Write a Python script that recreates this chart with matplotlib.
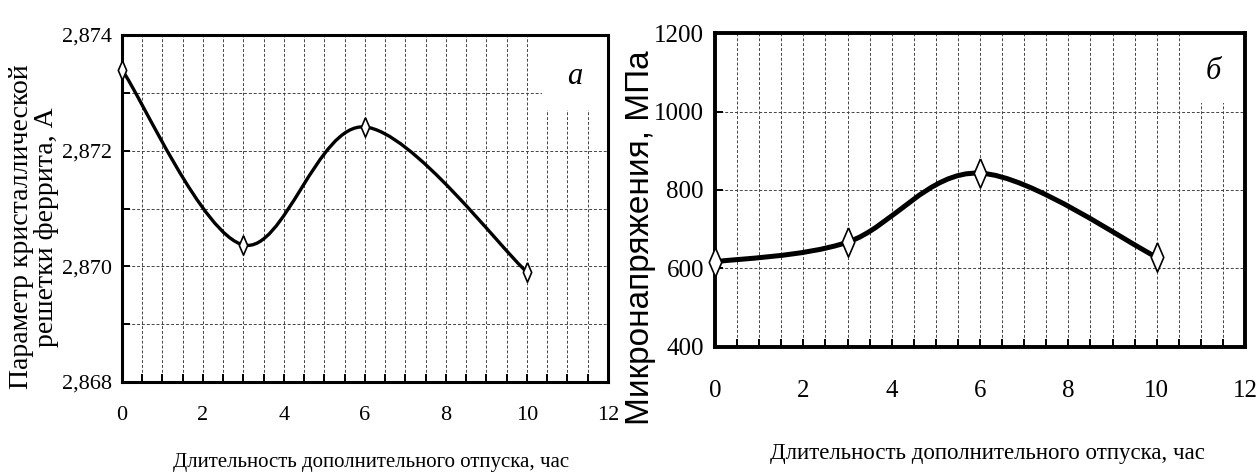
import matplotlib
matplotlib.use("Agg")
import matplotlib.pyplot as plt
import numpy as np
from matplotlib.path import Path
from matplotlib.patches import PathPatch, Rectangle
from matplotlib.ticker import MultipleLocator, FuncFormatter

# data
hours = [0, 3, 6, 10]
lattice = [2.8734, 2.87037, 2.87241, 2.8699]
stress = [617, 667, 843, 629]

x_ticks = [0, 2, 4, 6, 8, 10, 12]
lattice_ticks = [2.868, 2.870, 2.872, 2.874]
stress_ticks = [400, 600, 800, 1000, 1200]

X_LABEL = "Длительность дополнительного отпуска, час"
LATTICE_LABEL = "Параметр кристаллической\nрешетки феррита, А"
STRESS_LABEL = "Микронапряжения, МПа"

FIG_SIZE = (12.6, 4.75)
DPI = 100
SERIF = ["Liberation Serif", "DejaVu Serif"]
SANS = ["Liberation Sans", "DejaVu Sans"]
GRID_STYLE = dict(color="#444444", linestyle=(0, (3, 2)), linewidth=0.7)
DIAMOND = [(0, 1), (0.43, 0), (0, -1), (-0.43, 0), (0, 1)]


def smooth_path(xs, ys):
    # excel-like smoothed line: catmull-rom turned into cubic bezier segments
    pts = np.column_stack([xs, ys]).astype(float)
    padded = np.vstack([pts[0], pts, pts[-1]])
    verts = [pts[0]]
    codes = [Path.MOVETO]
    for i in range(len(pts) - 1):
        p0, p1, p2, p3 = padded[i], padded[i + 1], padded[i + 2], padded[i + 3]
        verts += [p1 + (p2 - p0) / 6, p2 - (p3 - p1) / 6, p2]
        codes += [Path.CURVE4] * 3
    return Path(verts, codes)


def draw_panel(ax, ys, lw, ms, spine_w, tick_size, pad_x, pad_y, letter, box_w, box_h):
    ax.set_xlim(0, 12)
    ax.set_xticks(x_ticks)
    ax.xaxis.set_minor_locator(MultipleLocator(0.5))
    ax.grid(True, which="both", axis="x", **GRID_STYLE)
    ax.set_axisbelow(True)
    for s in ax.spines.values():
        s.set_linewidth(spine_w)
    ax.tick_params(which="both", direction="in", length=6, width=1.4,
                   top=False, right=False)
    ax.tick_params(axis="x", which="major", pad=pad_x, labelsize=tick_size)
    ax.tick_params(axis="y", which="major", pad=pad_y, labelsize=tick_size)
    for lab in ax.get_xticklabels() + ax.get_yticklabels():
        lab.set_family(SERIF)

    ax.add_patch(Rectangle((1 - box_w, 1 - box_h), box_w, box_h, transform=ax.transAxes,
                           facecolor="white", edgecolor="none", zorder=1.5))
    ax.text(1 - box_w / 2, 1 - box_h * 0.55, letter, transform=ax.transAxes,
            ha="center", va="center", fontsize=22, style="italic", family=SERIF, zorder=2)

    ax.add_patch(PathPatch(smooth_path(hours, ys), fill=False, edgecolor="black",
                           linewidth=lw, zorder=3, capstyle="round", joinstyle="round"))
    ax.plot(hours, ys, linestyle="none", marker=DIAMOND, markersize=ms,
            markerfacecolor="white", markeredgecolor="black", markeredgewidth=1.2,
            zorder=4, clip_on=False)


fig = plt.figure(figsize=FIG_SIZE, dpi=DPI)
ax_a = fig.add_axes([0.0968, 0.1958, 0.3857, 0.7305])
ax_b = fig.add_axes([0.5675, 0.2695, 0.4206, 0.6610])

ax_a.set_ylim(2.868, 2.874)
ax_a.set_yticks(lattice_ticks)
ax_a.yaxis.set_minor_locator(MultipleLocator(0.001))
ax_a.yaxis.set_major_formatter(FuncFormatter(lambda v, p: f"{v:.3f}".replace(".", ",")))
ax_a.grid(True, which="both", axis="y", **GRID_STYLE)
draw_panel(ax_a, lattice, lw=2.4, ms=14, spine_w=2.2, tick_size=16,
           pad_x=17, pad_y=7, letter="а", box_w=0.136, box_h=0.216)

ax_b.set_ylim(400, 1200)
ax_b.set_yticks(stress_ticks)
ax_b.grid(True, which="major", axis="y", **GRID_STYLE)
draw_panel(ax_b, stress, lw=3.6, ms=21, spine_w=2.8, tick_size=18,
           pad_x=24, pad_y=8, letter="б", box_w=0.119, box_h=0.223)

fig.text(0.2944, 0.0253, X_LABEL, ha="center", va="center", fontsize=15, family=SERIF)
fig.text(0.784, 0.0463, X_LABEL, ha="center", va="center", fontsize=16.5, family=SERIF)
fig.text(0.027, 0.522, LATTICE_LABEL, ha="center", va="center", rotation=90,
         fontsize=20, linespacing=0.95, family=SERIF)
fig.text(0.5085, 0.499, STRESS_LABEL, ha="center", va="center", rotation=90,
         fontsize=24, family=SANS)

fig.savefig("out.png", dpi=DPI)
